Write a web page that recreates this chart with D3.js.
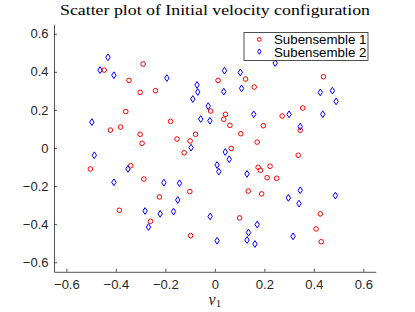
<!DOCTYPE html>
<html>
<head>
<meta charset="utf-8">
<script src="https://cdn.jsdelivr.net/npm/d3@7/dist/d3.min.js"></script>
<style>
    body { margin: 0; background: #fff; }
    svg { display: block; }
</style>
</head>
<body>
<div class="scatter"><svg></svg></div>
<script>
// Subensemble 1 (red circles)
const sub1X = [-0.447, -0.290, -0.347, -0.302, -0.240, 0.013, -0.017, -0.360, -0.179, -0.422,
    -0.381, -0.302, -0.294, -0.153, -0.078, -0.100, 0.439, 0.124, 0.159, 0.043,
    0.036, 0.061, 0.105, 0.196, 0.272, 0.355, 0.345, 0.171, 0.066, -0.124,
    -0.340, -0.503, -0.287, -0.101, -0.224, -0.386, -0.260, -0.098, 0.337, 0.175,
    0.184, 0.223, 0.211, 0.250, 0.135, 0.189, 0.100, 0.426, 0.409, 0.430];
const sub1Y = [0.409, 0.441, 0.355, 0.292, 0.301, 0.355, 0.194, 0.191, 0.140, 0.094,
    0.110, 0.072, 0.025, 0.047, 0.072, 0.037, 0.374, 0.362, 0.320, 0.177,
    0.151, 0.119, 0.075, 0.117, 0.168, 0.210, 0.093, 0.031, -0.002, -0.025,
    -0.093, -0.110, -0.163, -0.229, -0.257, -0.327, -0.385, -0.460, -0.038, -0.101,
    -0.117, -0.096, -0.156, -0.159, -0.226, -0.241, -0.367, -0.346, -0.425, -0.492];

// Subensemble 2 (blue diamonds)
const sub2X = [-0.432, -0.464, -0.408, -0.194, -0.072, -0.069, -0.089, -0.027, -0.057, -0.020,
    -0.497, -0.096, 0.244, 0.039, 0.103, 0.036, 0.108, 0.426, 0.475, 0.490,
    0.157, 0.300, 0.436, 0.345, -0.487, -0.351, -0.408, -0.206, -0.143, -0.150,
    -0.282, -0.221, -0.167, -0.268, -0.019, 0.009, 0.016, 0.009, 0.042, 0.058,
    0.130, 0.345, 0.297, 0.340, 0.487, 0.171, 0.136, 0.130, 0.162, 0.316];
const sub2Y = [0.476, 0.409, 0.382, 0.367, 0.331, 0.294, 0.257, 0.220, 0.152, 0.143,
    0.136, 0.002, 0.446, 0.406, 0.397, 0.296, 0.313, 0.292, 0.301, 0.245,
    0.177, 0.177, 0.177, 0.112, -0.038, -0.110, -0.180, -0.182, -0.185, -0.273,
    -0.331, -0.346, -0.334, -0.415, -0.359, -0.089, -0.124, -0.487, -0.021, -0.059,
    -0.136, -0.222, -0.262, -0.292, -0.250, -0.402, -0.444, -0.483, -0.504, -0.464];

const xTicks = [-0.6, -0.4, -0.2, 0, 0.2, 0.4, 0.6];
const yTicks = [-0.6, -0.4, -0.2, 0, 0.2, 0.4, 0.6];
const seriesNames = ['Subensemble 1', 'Subensemble 2'];
const titleText = 'Scatter plot of Initial velocity configuration';

const scatter = () => {
    const w = 415;
    const h = 312;
    const margin = { top: 24.2, right: 39.3, bottom: 40.2, left: 54 };
    const width = w - margin.left - margin.right;
    const height = h - margin.top - margin.bottom;
    const axisColor = '#262626';

    const svg = d3.select('.scatter svg').attr('width', w).attr('height', h);

    const x = d3.scaleLinear().domain([-0.65, 0.65]).range([0, width]);
    const y = d3.scaleLinear().domain([-0.65, 0.65]).range([height, 0]);

    const g = svg.append('g')
        .attr('transform', `translate(${margin.left},${margin.top})`);

    // axes, ticks pointing inward like matlab
    const fmt = (d) => (d === 0 ? '0' : d3.format('.1f')(d));

    const axisX = d3.axisBottom(x)
        .tickValues(xTicks)
        .tickFormat(fmt)
        .tickSizeInner(-3)
        .tickSizeOuter(0)
        .tickPadding(8);

    const axisY = d3.axisLeft(y)
        .tickValues(yTicks)
        .tickFormat(fmt)
        .tickSizeInner(-3)
        .tickSizeOuter(0)
        .tickPadding(5.5);

    const gx = g.append('g')
        .attr('class', 'axis axis-x')
        .attr('transform', `translate(0,${height})`)
        .call(axisX);

    const gy = g.append('g').attr('class', 'axis axis-y').call(axisY);

    [gx, gy].forEach((a) => {
        a.select('.domain').attr('stroke', axisColor).attr('stroke-width', 0.8);
        a.selectAll('.tick line').attr('stroke', axisColor).attr('stroke-width', 0.8);
        a.selectAll('.tick text')
            .attr('fill', axisColor)
            .style('font-family', '"Liberation Sans", Arial, sans-serif')
            .style('font-size', '13px');
    });

    // markers
    const diamond = (cx, cy, s = 1) =>
        `M${cx},${cy - 3.4 * s}L${cx + 2.2 * s},${cy}L${cx},${cy + 3.4 * s}L${cx - 2.2 * s},${cy}Z`;

    const pts1 = sub1X.map((d, i) => ({ x: d, y: sub1Y[i] }));
    const pts2 = sub2X.map((d, i) => ({ x: d, y: sub2Y[i] }));

    g.append('g').selectAll('circle')
        .data(pts1)
        .enter()
        .append('circle')
        .attr('cx', (d) => x(d.x))
        .attr('cy', (d) => y(d.y))
        .attr('r', 2.3)
        .attr('fill', 'none')
        .attr('stroke', '#ff0000')
        .attr('stroke-width', 1);

    g.append('g').selectAll('path')
        .data(pts2)
        .enter()
        .append('path')
        .attr('d', (d) => diamond(x(d.x), y(d.y)))
        .attr('fill', 'none')
        .attr('stroke', '#0000ff')
        .attr('stroke-width', 1);

    // title
    svg.append('text')
        .attr('x', 215)
        .attr('y', 14.5)
        .attr('text-anchor', 'middle')
        .attr('textLength', 310)
        .attr('lengthAdjust', 'spacingAndGlyphs')
        .style('font-family', '"Liberation Serif", "DejaVu Serif", serif')
        .style('font-size', '14px')
        .attr('fill', '#000')
        .text(titleText);

    // x label v_1
    const xl = svg.append('text')
        .attr('x', margin.left + x(0))
        .attr('y', 305)
        .attr('text-anchor', 'middle')
        .attr('fill', axisColor)
        .style('font-family', '"Liberation Serif", "DejaVu Serif", serif');
    xl.append('tspan').style('font-style', 'italic').style('font-size', '16px').text('v');
    xl.append('tspan').attr('dy', 2).style('font-size', '11px').text('1');

    // legend
    const legend = svg.append('g').attr('class', 'legend');
    legend.append('rect')
        .attr('x', 244)
        .attr('y', 32.5)
        .attr('width', 124)
        .attr('height', 28)
        .attr('fill', '#fff')
        .attr('stroke', axisColor)
        .attr('stroke-width', 0.8);

    const rows = [39.4, 51.6];
    legend.append('circle')
        .attr('cx', 259.3).attr('cy', rows[0]).attr('r', 1.9)
        .attr('fill', 'none').attr('stroke', '#ff0000');
    legend.append('path')
        .attr('d', diamond(259.3, rows[1], 0.8))
        .attr('fill', 'none').attr('stroke', '#0000ff');

    legend.selectAll('.legend-text')
        .data(seriesNames)
        .enter()
        .append('text')
        .attr('class', 'legend-text')
        .attr('x', 274)
        .attr('y', (d, i) => [44.3, 57][i])
        .attr('fill', '#000')
        .style('font-family', '"Liberation Sans", Arial, sans-serif')
        .style('font-size', '13.3px')
        .text((d) => d);
};

scatter();
</script>
</body>
</html>
